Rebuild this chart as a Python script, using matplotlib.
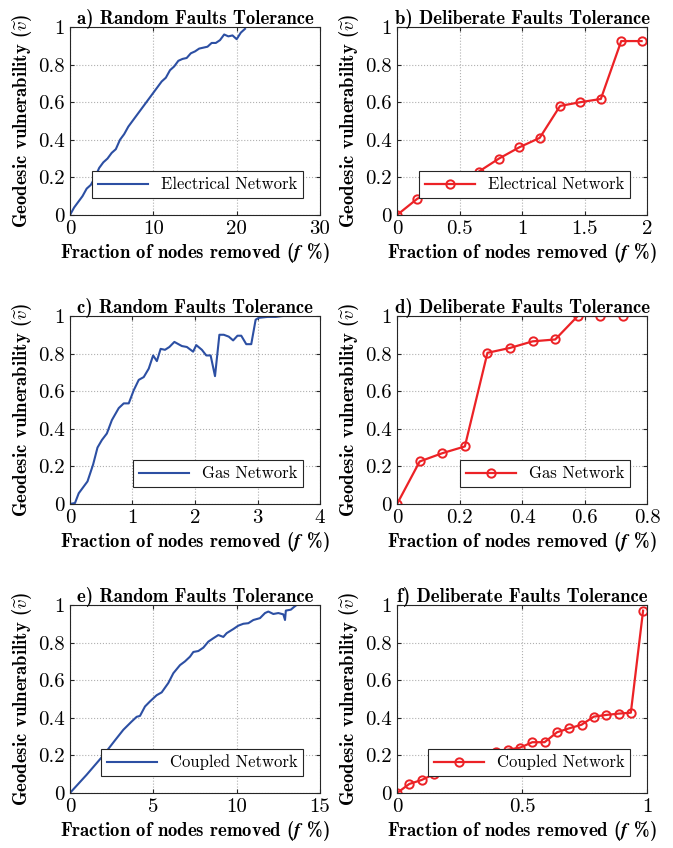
import matplotlib
matplotlib.use('Agg')
from matplotlib import pyplot as plt
from matplotlib.ticker import FuncFormatter

plt.rcParams['font.family'] = 'cmr10'
plt.rcParams['mathtext.fontset'] = 'cm'
plt.rcParams['axes.unicode_minus'] = False

# a) random faults, electrical network
elec_rand_x = [0, 0.5, 1, 1.5, 2, 2.5, 3, 3.5, 4, 4.5, 5, 5.5, 6, 6.5, 7, 7.5, 8, 8.5,
               9, 9.5, 10, 10.5, 11, 11.5, 12, 12.5, 13, 13.5, 14, 14.5, 15, 15.5, 16,
               16.5, 17, 17.5, 18, 18.5, 19, 19.5, 20, 20.5, 21]
elec_rand_y = [0, 0.04, 0.07, 0.10, 0.14, 0.16, 0.20, 0.25, 0.28, 0.30, 0.33, 0.35, 0.40,
               0.43, 0.47, 0.50, 0.53, 0.56, 0.59, 0.62, 0.65, 0.68, 0.71, 0.73, 0.77,
               0.79, 0.82, 0.83, 0.835, 0.86, 0.87, 0.885, 0.89, 0.895, 0.915, 0.915,
               0.93, 0.96, 0.95, 0.955, 0.935, 0.97, 0.99]

# b) deliberate faults, electrical network
elec_del_x = [0, 0.163, 0.326, 0.489, 0.652, 0.815, 0.978, 1.141, 1.304, 1.467, 1.63,
              1.793, 1.956]
elec_del_y = [0, 0.087, 0.13, 0.18, 0.23, 0.30, 0.36, 0.41, 0.58, 0.60, 0.617, 0.925, 0.925]

# c) random faults, gas network
gas_rand_x = [0, 0.08, 0.14, 0.28, 0.37, 0.44, 0.51, 0.59, 0.67, 0.78, 0.86, 0.94, 1.02,
              1.10, 1.18, 1.26, 1.33, 1.39, 1.45, 1.52, 1.59, 1.67, 1.79, 1.87, 1.97,
              2.02, 2.11, 2.18, 2.25, 2.32, 2.39, 2.46, 2.54, 2.61, 2.68, 2.74, 2.82,
              2.90, 2.97, 3.02, 3.16, 3.29, 3.41]
gas_rand_y = [0, 0.005, 0.057, 0.12, 0.21, 0.30, 0.34, 0.375, 0.446, 0.51, 0.535, 0.535,
              0.605, 0.66, 0.675, 0.72, 0.79, 0.76, 0.825, 0.82, 0.835, 0.862, 0.84,
              0.835, 0.81, 0.845, 0.82, 0.79, 0.79, 0.68, 0.90, 0.90, 0.89, 0.87, 0.895,
              0.895, 0.85, 0.85, 0.98, 0.99, 0.995, 0.995, 1.0]

# d) deliberate faults, gas network
gas_del_x = [0, 0.0723, 0.1446, 0.2169, 0.2892, 0.3615, 0.4338, 0.5061, 0.5784, 0.6507,
             0.723]
gas_del_y = [0, 0.226, 0.27, 0.306, 0.804, 0.83, 0.865, 0.875, 1.0, 1.0, 1.0]

# e) random faults, coupled network
coup_rand_x = [0, 1.0, 2.0, 2.7, 3.2, 3.7, 4.0, 4.2, 4.5, 4.8, 5.2, 5.5, 5.9, 6.2, 6.6,
               6.9, 7.2, 7.4, 7.7, 8.0, 8.3, 8.6, 8.9, 9.2, 9.4, 9.8, 10.1, 10.4, 10.7,
               11.0, 11.4, 11.7, 11.9, 12.2, 12.5, 12.8, 12.9, 12.95, 13.25, 13.45, 13.6]
coup_rand_y = [0, 0.097, 0.20, 0.28, 0.336, 0.38, 0.405, 0.41, 0.46, 0.487, 0.52, 0.535,
               0.585, 0.637, 0.68, 0.70, 0.725, 0.75, 0.755, 0.773, 0.805, 0.823, 0.84,
               0.83, 0.85, 0.872, 0.89, 0.90, 0.903, 0.92, 0.93, 0.957, 0.965, 0.952,
               0.957, 0.95, 0.92, 0.97, 0.975, 0.99, 1.0]

# f) deliberate faults, coupled network
coup_del_x = [0, 0.049, 0.098, 0.148, 0.197, 0.246, 0.295, 0.344, 0.394, 0.443, 0.492,
              0.541, 0.590, 0.640, 0.689, 0.738, 0.787, 0.836, 0.886, 0.935, 0.984]
coup_del_y = [0, 0.048, 0.069, 0.10, 0.13, 0.16, 0.18, 0.20, 0.22, 0.23, 0.241, 0.27,
              0.27, 0.323, 0.344, 0.363, 0.406, 0.415, 0.422, 0.427, 0.97]

titles = ['a) Random Faults Tolerance', 'b) Deliberate Faults Tolerance',
          'c) Random Faults Tolerance', 'd) Deliberate Faults Tolerance',
          'e) Random Faults Tolerance', 'f) Deliberate Faults Tolerance']
labels = ['Electrical Network', 'Electrical Network', 'Gas Network', 'Gas Network',
          'Coupled Network', 'Coupled Network']
xlims = [30, 2, 4, 0.8, 15, 1]
xticks = [[0, 10, 20, 30], [0, 0.5, 1, 1.5, 2], [0, 1, 2, 3, 4],
          [0, 0.2, 0.4, 0.6, 0.8], [0, 5, 10, 15], [0, 0.5, 1]]
yticks = [0, 0.2, 0.4, 0.6, 0.8, 1]

series = [(elec_rand_x, elec_rand_y), (elec_del_x, elec_del_y),
          (gas_rand_x, gas_rand_y), (gas_del_x, gas_del_y),
          (coup_rand_x, coup_rand_y), (coup_del_x, coup_del_y)]

BLUE = '#2c4fa3'
RED = '#ec2226'

fig = plt.figure(figsize=(6.73, 8.48), dpi=100)

lefts = [0.104, 0.590]
bottoms = [0.7465, 0.4057, 0.0649]
w, h = 0.3715, 0.2217

fmt = FuncFormatter(lambda v, p: '%g' % v)

for i in range(6):
    row, col = i // 2, i % 2
    ax = fig.add_axes([lefts[col], bottoms[row], w, h])
    x, y = series[i]
    if col == 0:
        ax.plot(x, y, color=BLUE, lw=1.5, label=labels[i])
    else:
        ax.plot(x, y, color=RED, lw=1.6, marker='o', ms=6, mfc='none', mew=1.4,
                label=labels[i])
    ax.set_xlim(0, xlims[i])
    ax.set_ylim(0, 1)
    ax.set_xticks(xticks[i])
    ax.set_yticks(yticks)
    ax.xaxis.set_major_formatter(fmt)
    ax.yaxis.set_major_formatter(fmt)
    ax.tick_params(direction='in', top=True, right=True, labelsize=15, length=3,
                   color='#262626', pad=4)
    for s in ax.spines.values():
        s.set_color('#262626')
        s.set_linewidth(0.8)
    ax.grid(True, ls=':', color='#b0b0b0', lw=0.8)
    ax.set_title(titles[i], fontsize=13.5, family='cmb10', pad=2)
    ax.set_xlabel(r'Fraction of nodes removed ($\boldsymbol{f}$ %)', fontsize=13.5,
                  family='cmb10', labelpad=2)
    ax.set_ylabel(r'Geodesic vulnerability ($\widetilde{v}$)', fontsize=13.5,
                  family='cmb10', labelpad=3)
    leg = ax.legend(loc='lower right', fontsize=12, fancybox=False, framealpha=1,
                    edgecolor='#262626', borderaxespad=1.0, handlelength=3.0,
                    borderpad=0.35)
    leg.get_frame().set_linewidth(0.8)

plt.savefig('out.png', dpi=100)
